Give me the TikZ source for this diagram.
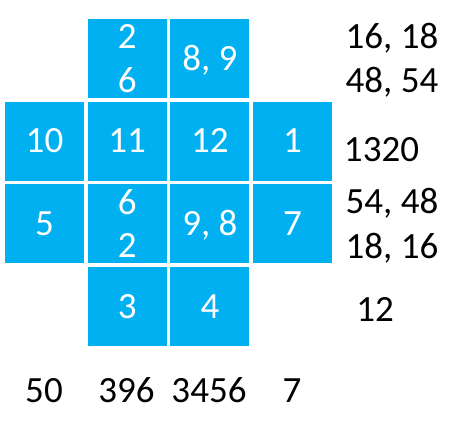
\documentclass[tikz,border=0pt]{standalone}
\usepackage{fontspec}
\setmainfont{Carlito}
\usepackage{tikz}
\definecolor{tileblue}{HTML}{00B0F0}

\tikzset{
 num/.style={font=\fontsize{37}{44}\selectfont, inner sep=0pt, text height=23.4pt, text depth=0pt},
 tile/.style={num, fill=tileblue, draw=none, minimum size=79pt, text=white},
}

\begin{document}
\begin{tikzpicture}[x=1pt, y=-1pt]
\useasboundingbox (0,0) rectangle (463,421);

% the blue tiles, column / row / number
 \foreach \c/\r/\t in {2/1/{}, 3/1/{8, 9}, 1/2/10, 2/2/11, 3/2/12, 4/2/1,
                       1/3/5, 2/3/{}, 3/3/{9, 8}, 4/3/7, 2/4/3, 3/4/4}
   \path (44.5+82.7*\c-82.7, 58.5+82.7*\r-82.7) node [tile] (t\c\r) {\t};

% tiles with two numbers
\path (t21.center) ++(0,-22) node [num, text=white] (t21a) {2}
      ++(0,44) node [num, text=white] (t21b) {6};
\path (t23.center) ++(0,-21) node [num, text=white] (t23a) {6}
      ++(0,43) node [num, text=white] (t23b) {2};

% products along the rows
\path
(392,37) node [num] (row1a) {16, 18}
(392,81) node [num] (row1b) {48, 54}
(381.5,150) node [num] (row2) {1320}
(392,202) node [num] (row3a) {54, 48}
(392,247) node [num] (row3b) {18, 16}
(375,310) node [num] (row4) {12};

% products down the columns
\path
(44,391) node [num] (col1) {50}
(126.5,391) node [num] (col2) {396}
(209,391) node [num] (col3) {3456}
(292,391) node [num] (col4) {7};

\end{tikzpicture}
\end{document}
